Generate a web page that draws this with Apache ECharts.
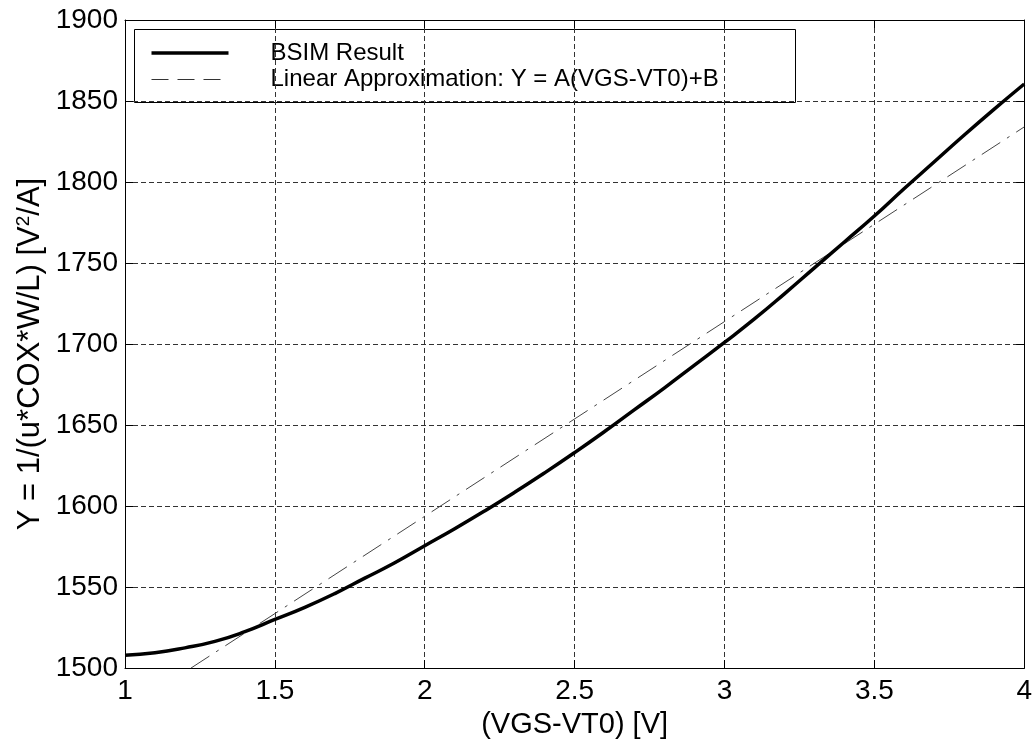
<!DOCTYPE html>
<html>
<head>
<meta charset="utf-8">
<script src="https://cdn.jsdelivr.net/npm/echarts@6/dist/echarts.min.js"></script>
<style>
  html, body { margin: 0; padding: 0; background: #fff; }
  #chart { width: 1035px; height: 744px; }
</style>
</head>
<body>
<div id="chart"></div>
<script>
// BSIM result
const vgs = [1.0, 1.1, 1.2, 1.3, 1.4, 1.5, 1.6, 1.7, 1.8, 1.9, 2.0, 2.1, 2.2, 2.3, 2.4, 2.5,
  2.6, 2.7, 2.8, 2.9, 3.0, 3.1, 3.2, 3.3, 3.4, 3.5, 3.6, 3.7, 3.8, 3.9, 4.0]
const bsim = [1508, 1509.5, 1512.5, 1516.5, 1522.5, 1530, 1537.5, 1546, 1555.5, 1565, 1575.5,
  1586, 1597, 1608.5, 1620.5, 1633, 1646, 1659.5, 1673, 1687, 1701, 1715.5, 1731, 1747,
  1763, 1779, 1796, 1812.5, 1829, 1845, 1860.5]
// linear approximation end points
const linX = [1.22, 4.0]
const linY = [1500, 1834]

const xTicks = { min: 1, max: 4, interval: 0.5 }
const yTicks = { min: 1500, max: 1900, interval: 50 }
const legendNames = ['BSIM Result', 'Linear Approximation: Y = A(VGS-VT0)+B']

const font = 'Liberation Sans, Arial, sans-serif'
const chart = echarts.init(document.getElementById('chart'))

const frameAxis = (pos) => ({
  type: 'value', position: pos, ...(pos === 'top' || pos === 'bottom' ? xTicks : yTicks),
  axisLine: { show: true, onZero: false, lineStyle: { color: '#000', width: 1 } },
  axisTick: { show: true, inside: true, length: 8, lineStyle: { color: '#000' } },
  axisLabel: { show: false },
  splitLine: { show: false }
})

chart.setOption({
  backgroundColor: '#fff',
  animation: false,
  grid: { left: 125, right: 5, top: 20, bottom: 74, containLabel: false },
  xAxis: [
    {
      type: 'value', ...xTicks,
      name: '(VGS-VT0) [V]', nameLocation: 'middle', nameGap: 36,
      nameTextStyle: { fontFamily: font, fontSize: 29, color: '#000' },
      axisLine: { onZero: false, lineStyle: { color: '#000', width: 1 } },
      axisTick: { inside: true, length: 8, lineStyle: { color: '#000' } },
      axisLabel: { fontFamily: font, fontSize: 28, color: '#000', margin: 9,
        formatter: v => String(v) },
      splitLine: { show: true, lineStyle: { color: '#333', type: [5, 3], width: 1 } }
    },
    frameAxis('top')
  ],
  yAxis: [
    {
      type: 'value', ...yTicks,
      name: 'Y = 1/(u*COX*W/L) [V{sup|2}/A]', nameLocation: 'middle', nameGap: 78,
      nameMoveOverlap: false,
      nameTextStyle: {
        fontFamily: font, fontSize: 31, color: '#000', padding: [0, 20, 0, 0],
        rich: { sup: { fontFamily: font, fontSize: 19, color: '#000', verticalAlign: 'top', padding: [0, 0, 14, 0] } }
      },
      axisLine: { onZero: false, lineStyle: { color: '#000', width: 1 } },
      axisTick: { inside: true, length: 8, lineStyle: { color: '#000' } },
      axisLabel: { fontFamily: font, fontSize: 28, color: '#000', margin: 7,
        formatter: v => String(v) },
      splitLine: { show: true, lineStyle: { color: '#333', type: [5, 3], width: 1 } }
    },
    frameAxis('right')
  ],
  series: [
    {
      name: legendNames[1], type: 'line', xAxisIndex: 0, yAxisIndex: 0,
      showSymbol: false, symbol: 'none',
      lineStyle: { color: '#444', width: 1, type: [22, 8, 3, 8] },
      data: linX.map((x, i) => [x, linY[i]]),
      z: 3
    },
    {
      name: legendNames[0], type: 'line', xAxisIndex: 0, yAxisIndex: 0,
      showSymbol: false, symbol: 'none', smooth: true,
      lineStyle: { color: '#000', width: 3.5 },
      data: vgs.map((x, i) => [x, bsim[i]]),
      z: 4
    }
  ],
  graphic: [
    {
      type: 'group', left: 134, top: 29, z: 100,
      children: [
        { type: 'rect', shape: { x: 0, y: 0, width: 661, height: 73 },
          style: { fill: '#fff', stroke: '#000', lineWidth: 1 } },
        { type: 'line', shape: { x1: 17, y1: 23.5, x2: 94, y2: 23.5 },
          style: { stroke: '#000', lineWidth: 3.5 } },
        { type: 'line', shape: { x1: 17, y1: 50, x2: 94, y2: 50 },
          style: { stroke: '#333', lineWidth: 1, lineDash: [17, 9] } },
        { type: 'text', x: 136, y: 23.5,
          style: { text: legendNames[0], font: '24px ' + font, fill: '#000', verticalAlign: 'middle' } },
        { type: 'text', x: 136, y: 50,
          style: { text: legendNames[1], font: '24px ' + font, fill: '#000', verticalAlign: 'middle' } }
      ]
    }
  ]
})
</script>
</body>
</html>
